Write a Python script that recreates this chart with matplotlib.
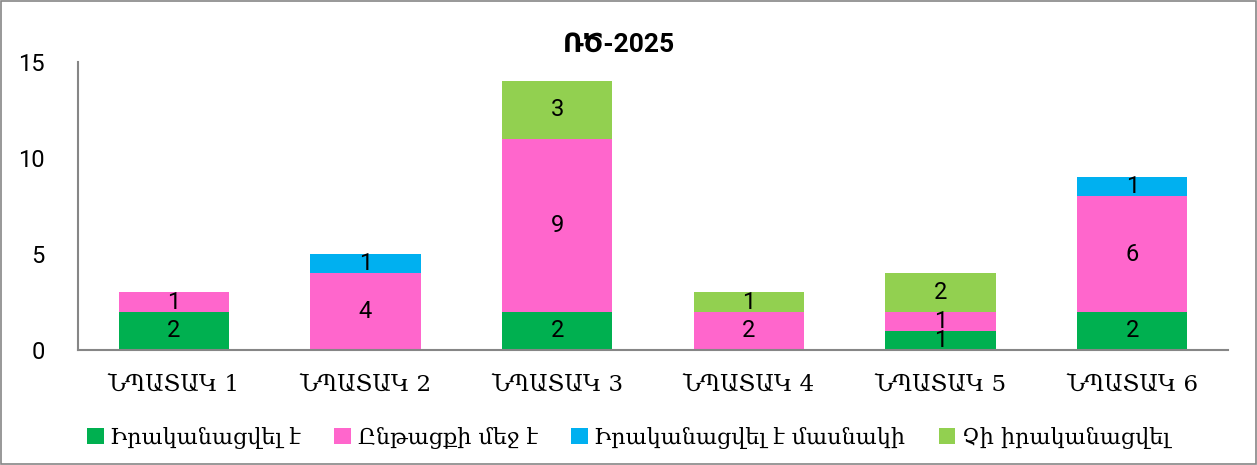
import matplotlib.pyplot as plt
from matplotlib.patches import Rectangle

categories = ['ՆՊԱՏԱԿ 1', 'ՆՊԱՏԱԿ 2', 'ՆՊԱՏԱԿ 3', 'ՆՊԱՏԱԿ 4', 'ՆՊԱՏԱԿ 5', 'ՆՊԱՏԱԿ 6']
done = [2, 0, 2, 0, 1, 2]
in_progress = [1, 4, 9, 2, 1, 6]
partial = [0, 1, 0, 0, 0, 1]
not_done = [0, 0, 3, 1, 2, 0]

series = [
    ('Իրականացվել է', done, '#00B050'),
    ('Ընթացքի մեջ է', in_progress, '#FF66CC'),
    ('Իրականացվել է մասնակի', partial, '#00B0F0'),
    ('Չի իրականացվել', not_done, '#92D050'),
]

fig = plt.figure(figsize=(12.57, 4.65), dpi=100)
ax = fig.add_axes([0.062, 0.247, 0.915, 0.62])

x = list(range(len(categories)))
bottom = [0] * len(categories)
for name, vals, color in series:
    bars = ax.bar(x, vals, 0.575, bottom=bottom, color=color, label=name)
    for b, v, base in zip(bars, vals, bottom):
        if v > 0:
            ax.text(b.get_x() + b.get_width() / 2, base + v / 2, str(v),
                    ha='center', va='center', fontsize=17, family='Roboto')
    bottom = [a + b for a, b in zip(bottom, vals)]

ax.set_xlim(-0.5, 5.5)
ax.set_ylim(0, 15)
ax.set_yticks([0, 5, 10, 15])
ax.set_xticks(x)
ax.set_xticklabels(categories, family='DejaVu Serif', fontsize=16.5)
for lab in ax.get_yticklabels():
    lab.set_family('Roboto')
    lab.set_fontsize(17)
ax.tick_params(axis='x', length=0, pad=17)
ax.tick_params(axis='y', length=0, pad=24)
for s in ['top', 'right']:
    ax.spines[s].set_visible(False)
for s in ['left', 'bottom']:
    ax.spines[s].set_color('#868686')
    ax.spines[s].set_linewidth(1.5)

fig.text(0.492, 0.903, 'ՌԾ-2025', ha='center', va='center', fontsize=19,
         fontweight='bold', family=['Roboto', 'DejaVu Sans'])

fig.legend(loc='center', bbox_to_anchor=(0.5, 0.058), ncol=4, frameon=False,
           prop={'family': 'DejaVu Serif', 'size': 16}, handlelength=0.75,
           handleheight=0.75, handletextpad=0.3, columnspacing=1.5)

fig.patches.append(Rectangle((0.001, 0.002), 0.998, 0.996, transform=fig.transFigure,
                             fill=False, edgecolor='#868686', linewidth=1.2))

fig.savefig('out.png', dpi=100)
